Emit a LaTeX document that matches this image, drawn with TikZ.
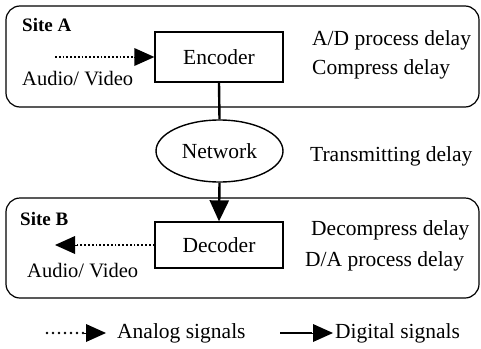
\documentclass[tikz,border=0pt]{standalone}
\usepackage{fontspec}
\setmainfont{Liberation Serif}
\usetikzlibrary{arrows.meta,shapes.geometric}
\begin{document}
\begin{tikzpicture}[x=1pt,y=-1pt,
  every node/.style={font=\fontsize{21.5}{25}\selectfont},
  txt/.style={anchor=base west,inner sep=0pt},
  avtxt/.style={anchor=base west,inner sep=0pt,font=\fontsize{20.5}{24}\selectfont},
  sitelbl/.style={anchor=base west,inner sep=0pt,font=\fontsize{19}{22}\selectfont\bfseries},
  sitebox/.style={draw,line width=1.2pt,rounded corners=14pt},
  unit/.style={draw,line width=1.3pt,rectangle,inner sep=0pt},
  digital/.style={line width=2.4pt},
  analog/.style={line width=1.8pt,dotted},
  tip/.style={-{Triangle[length=20pt,width=18pt]}}
]
\useasboundingbox (0,0) rectangle (481,348);
% site boxes
\draw[sitebox] (6,6) rectangle (479,107);
\draw[sitebox] (6,198) rectangle (479,298);
% units
\node[unit,minimum width=128pt,minimum height=50pt] (enc) at (219,57) {Encoder};
\node[unit,minimum width=128pt,minimum height=46pt] (dec) at (219,245) {Decoder};
\node[draw,line width=1.4pt,ellipse,inner sep=0pt,minimum width=127pt,minimum height=62pt] (net) at (219.5,151) {Network};
% labels
\node[sitelbl] (sa) at (22,31) {Site A};
\node[sitelbl] (sb) at (20,225) {Site B};
\node[avtxt] (ava) at (22,85) {Audio/ Video};
\node[avtxt] (avb) at (27,277) {Audio/ Video};
\node[txt] (d1) at (312,45) {A/D process delay};
\node[txt] (d2) at (312,74) {Compress delay};
\node[txt] (d3) at (310,161) {Transmitting delay};
\node[txt] (d4) at (311,235) {Decompress delay};
\node[txt] (d5) at (305,266) {D/A process delay};
% connectors
\coordinate (ain) at (55,57);
\coordinate (aout) at (55,245);
\draw[analog] (ain) -- ([xshift=-19pt]enc.west);
\draw[tip,line width=0pt] ([xshift=-19pt]enc.west) -- (enc.west);
\draw[digital] (enc.south) -- (net.north);
\draw[digital,-{Triangle[length=21pt,width=19pt]}] (net.south) -- (dec.north);
\draw[analog] (dec.west) -- ([xshift=22pt]aout);
\draw[tip,line width=0pt] ([xshift=22pt]aout) -- (aout);
% legend
\coordinate (l1a) at (47,333);
\coordinate (l1b) at (84,333);
\coordinate (l1c) at (106,333);
\coordinate (l2a) at (280,333);
\coordinate (l2b) at (312,333);
\coordinate (l2c) at (333,333);
\draw[line width=2.6pt,line cap=round,dash pattern=on 0pt off 6pt] (l1a) -- (l1b);
\draw[tip,line width=0pt] (l1b) -- (l1c);
\draw[line width=2.6pt] (l2a) -- (l2b);
\draw[tip,line width=0pt] (l2b) -- (l2c);
\node[txt] (la) at (117,338) {Analog signals};
\node[txt] (ld) at (335,338) {Digital signals};
\end{tikzpicture}
\end{document}
